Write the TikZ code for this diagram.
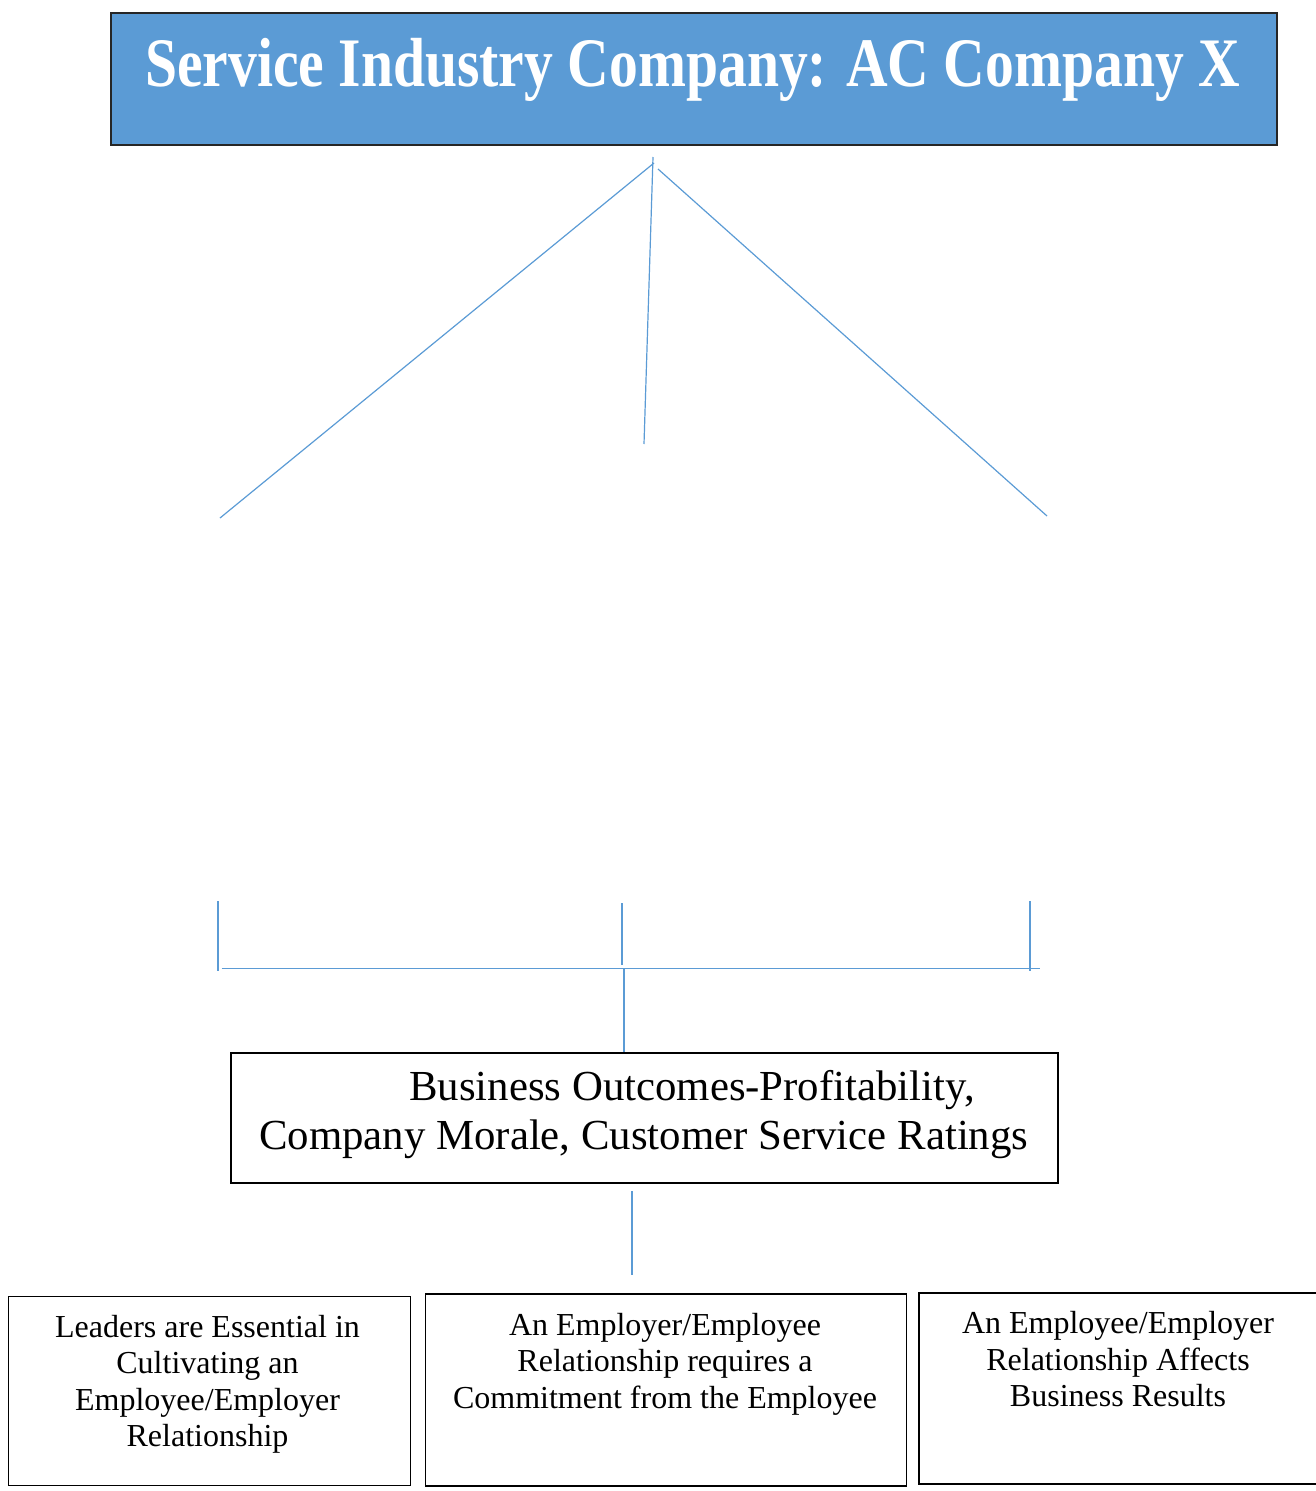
\documentclass[tikz,border=0pt]{standalone}
\usepackage{fontspec}
\setmainfont{Liberation Serif}[Ligatures=CommonOff]
\definecolor{hdrblue}{HTML}{5B9BD5}
\definecolor{connblue}{HTML}{5B9BD5}
\begin{document}
\begin{tikzpicture}[x=1pt,y=-1pt,
  conn/.style={draw=connblue,line width=1.2pt},
  box/.style={draw=black,line width=1.6pt,fill=white,inner sep=0pt,anchor=north west},
  titlebox/.style={draw=black!85,line width=1.5pt,fill=hdrblue,inner sep=0pt,anchor=north west},
  lbl/.style={inner sep=0pt,anchor=base,font=\fontsize{32}{37}\selectfont},
  midlbl/.style={inner sep=0pt,anchor=base west,font=\fontsize{42.8}{50}\selectfont},
  titlelbl/.style={inner sep=0pt,anchor=base west,text=white,font=\fontsize{69.5}{80}\selectfont\bfseries}]
\useasboundingbox (0,0) rectangle (1315,1491);
% title
\node[titlebox,minimum width=1166pt,minimum height=132pt] (title) at (110,12) {};
\node[titlelbl] (titletext) at (145,86) {\resizebox{1095pt}{\height}{Service Industry Company: AC Company X}};
% connector points
\coordinate (apexL) at (654,163);
\coordinate (apexM) at (653,157);
\coordinate (apexR) at (658,169);
\coordinate (endL) at (220,518);
\coordinate (endM) at (644,444);
\coordinate (endR) at (1047,516);
\draw[conn] (apexL) -- (endL);
\draw[conn] (apexM) -- (endM);
\draw[conn] (apexR) -- (endR);
% bracket
\coordinate (brLtop) at (218,901);
\coordinate (brLbot) at (218,971);
\coordinate (brMtop) at (622,903);
\coordinate (brMbot) at (622,965);
\coordinate (brRtop) at (1030,901);
\coordinate (brRbot) at (1030,971);
\coordinate (brHl) at (221.5,968.5);
\coordinate (brHr) at (1040,968.5);
\coordinate (brDtop) at (624,969);
\draw[conn] (brLtop) -- (brLbot);
\draw[conn] (brMtop) -- (brMbot);
\draw[conn] (brRtop) -- (brRbot);
\draw[conn] (brHl) -- (brHr);
% outcomes box
\node[box,minimum width=827pt,minimum height=130pt] (outcome) at (230,1052) {};
\draw[conn] (brDtop) -- (outcome.north -| brDtop);
\node[midlbl] (out1) at (409,1100) {Business Outcomes-Profitability,};
\node[midlbl] (out2) at (259,1149) {Company Morale, Customer Service Ratings};
% lower connector
\coordinate (lowTop) at (632,1191);
\coordinate (lowBot) at (632,1275);
\draw[conn] (lowTop) -- (lowBot);
% bottom boxes
\node[box,minimum width=402pt,minimum height=189pt] (b1) at (7.5,1295.5) {};
\node[box,minimum width=481pt,minimum height=192pt] (b2) at (424.5,1293) {};
\node[box,minimum width=420pt,minimum height=191pt] (b3) at (918,1292) {};
\node[lbl] (b1l1) at (207.5,1337) {Leaders are Essential in};
\node[lbl] (b1l2) at (207.5,1373.5) {Cultivating an};
\node[lbl] (b1l3) at (207.5,1410) {Employee/Employer};
\node[lbl] (b1l4) at (207.5,1446.5) {Relationship};
\node[lbl] (b2l1) at (665,1335) {An Employer/Employee};
\node[lbl] (b2l2) at (665,1371.5) {Relationship requires a};
\node[lbl] (b2l3) at (665,1408) {Commitment from the Employee};
\node[lbl] (b3l1) at (1118,1333.5) {An Employee/Employer};
\node[lbl] (b3l2) at (1118,1370) {Relationship Affects};
\node[lbl] (b3l3) at (1118,1406.5) {Business Results};
\end{tikzpicture}
\end{document}
